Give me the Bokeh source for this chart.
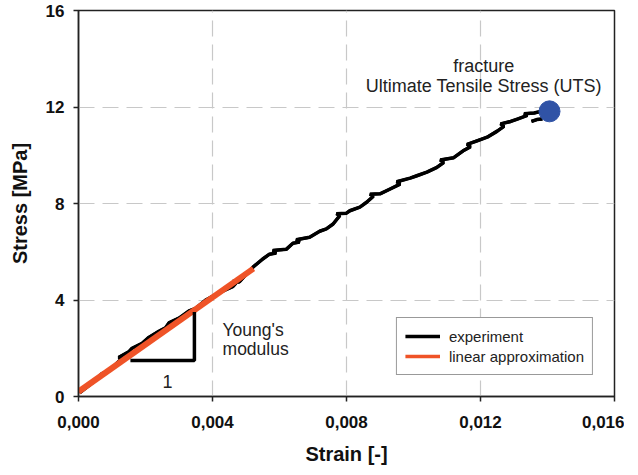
from bokeh.plotting import figure
from bokeh.models import Range1d, FixedTicker, CustomJSTickFormatter, Legend, LegendItem
from bokeh.core.properties import value
from bokeh.embed import file_html
from bokeh.resources import INLINE

nan = float("nan")

# experimental stress-strain curve (strain [-], stress [MPa]); NaN separates the post-fracture fragment
exp_strain = [0.00003, 0.0004, 0.0006, 0.0007, 0.0009, 0.0012, 0.0013, 0.0012, 0.0015, 0.0016,
              0.0019, 0.0021, 0.0024, 0.0026, 0.0027, 0.0030, 0.0033, 0.0035, 0.0038, 0.0042,
              0.0046, 0.0047, 0.0046, 0.0048, 0.0052, 0.0055, 0.0057, 0.0059, 0.0058, 0.0062,
              0.0064, 0.0066, 0.0065, 0.0069, 0.0072, 0.0074, 0.0076, 0.0078, 0.0077, 0.0080,
              0.0081, 0.0084, 0.0086, 0.0088, 0.0087, 0.0090, 0.0093, 0.0096, 0.0095, 0.0099,
              0.0101, 0.0104, 0.0107, 0.0109, 0.0108, 0.0112, 0.0115, 0.0117, 0.0116, 0.0119,
              0.0122, 0.0125, 0.0127, 0.0126, 0.0129, 0.0131, 0.0134, 0.0133, 0.0136, 0.0139,
              nan, 0.01352, 0.01368, 0.01385]
exp_stress = [0.15, 0.55, 0.80, 0.95, 1.05, 1.45, 1.55, 1.62, 1.85, 2.00,
              2.20, 2.45, 2.70, 2.85, 3.05, 3.25, 3.55, 3.65, 4.00, 4.30,
              4.55, 4.70, 4.78, 4.75, 5.35, 5.70, 5.90, 5.95, 6.05, 6.10,
              6.35, 6.40, 6.50, 6.60, 6.85, 6.95, 7.15, 7.50, 7.58, 7.60,
              7.70, 7.85, 8.05, 8.30, 8.38, 8.40, 8.60, 8.80, 8.90, 9.05,
              9.15, 9.30, 9.50, 9.70, 9.80, 9.90, 10.20, 10.35, 10.45, 10.60,
              10.75, 11.00, 11.20, 11.30, 11.40, 11.50, 11.65, 11.72, 11.75, 11.85,
              nan, 11.40, 11.48, 11.50]

# linear approximation (Young's modulus)
lin_strain = [0.0, 0.00522]
lin_stress = [0.2, 5.30]

# slope triangle
tri_strain = [0.00155, 0.00346, 0.00346]
tri_stress = [1.49, 1.49, 3.50]

# fracture point (UTS)
uts_strain = [0.01406]
uts_stress = [11.82]

x_ticks = [0.0, 0.004, 0.008, 0.012, 0.016]
y_ticks = [0, 4, 8, 12, 16]

FONT = "Liberation Sans"
ORANGE = "#ef5327"

p = figure(frame_width=536, frame_height=386, output_backend="svg", toolbar_location=None,
           x_range=Range1d(0, 0.016), y_range=Range1d(0, 16),
           min_border_left=78, min_border_top=10, min_border_right=10, min_border_bottom=60)
p.background_fill_color = "white"
p.border_fill_color = "white"
p.outline_line_color = "#222222"
p.outline_line_width = 1.5

# grid
for g in (p.xgrid, p.ygrid):
    g.grid_line_color = "#c8c8c8"
    g.grid_line_dash = "16 8"
    g.grid_line_width = 1.2
p.xgrid.ticker = FixedTicker(ticks=x_ticks)
p.ygrid.ticker = FixedTicker(ticks=y_ticks)

# axes
p.xaxis.ticker = FixedTicker(ticks=x_ticks)
p.yaxis.ticker = FixedTicker(ticks=y_ticks)
p.xaxis.formatter = CustomJSTickFormatter(code="return tick.toFixed(3).replace('.', ',');")
for ax in (p.xaxis[0], p.yaxis[0]):
    ax.axis_line_color = "#222222"
    ax.axis_line_width = 1.5
    ax.major_tick_line_color = "#222222"
    ax.major_tick_line_width = 1.5
    ax.major_tick_out = 5
    ax.major_tick_in = 0
    ax.minor_tick_line_color = None
    ax.major_label_text_font = FONT
    ax.major_label_text_font_style = "bold"
    ax.major_label_text_font_size = "17px"
    ax.major_label_text_color = "#111111"
    ax.axis_label_text_font = FONT
    ax.axis_label_text_font_style = "bold"
    ax.axis_label_text_font_size = "20px"
    ax.axis_label_text_color = "#111111"
p.xaxis.axis_label = "Strain [-]"
p.yaxis.axis_label = "Stress [MPa]"
p.xaxis.major_label_standoff = 14
p.yaxis.major_label_standoff = 9
p.xaxis.axis_label_standoff = 12
p.yaxis.axis_label_standoff = 12

# thin copies used as legend swatches (hidden beneath the visible lines)
leg_exp = p.line(exp_strain, exp_stress, line_color="black", line_width=3.5)
leg_lin = p.line(lin_strain, lin_stress, line_color=ORANGE, line_width=3.5)

# data
p.line(exp_strain, exp_stress, line_color="black", line_width=3)
p.line(lin_strain, lin_stress, line_color=ORANGE, line_width=6)
p.line(tri_strain, tri_stress, line_color="black", line_width=3.5)
p.scatter(uts_strain, uts_stress, size=21, fill_color="#3053a6", line_color="#3053a6")

# annotations
p.text(x=[0.01210, 0.01210], y=[13.68, 12.85], text=["fracture", "Ultimate Tensile Stress (UTS)"],
       text_align="center", text_baseline="middle", text_font=value(FONT),
       text_font_size="18px", text_color="#222222")
p.text(x=[0.0043, 0.0043], y=[2.74, 1.95], text=["Young's", "modulus"],
       text_align="left", text_baseline="middle", text_font=value(FONT),
       text_font_size="17.5px", text_color="#222222")
p.text(x=[0.00266], y=[0.62], text=["1"], text_align="center", text_baseline="middle",
       text_font=value(FONT), text_font_size="18px", text_color="#222222")

legend = Legend(items=[LegendItem(label="experiment", renderers=[leg_exp]),
                       LegendItem(label="linear approximation", renderers=[leg_lin])],
                location="bottom_right", orientation="vertical")
legend.label_text_font = FONT
legend.label_text_font_size = "15px"
legend.label_text_color = "#222222"
legend.glyph_width = 35
legend.glyph_height = 20
legend.label_height = 20
legend.label_width = 0
legend.label_standoff = 9
legend.padding = 8
legend.spacing = 0
legend.margin = 21
legend.border_line_color = "#333333"
legend.border_line_width = 1.2
legend.background_fill_alpha = 1.0
p.add_layout(legend)

open("out.html", "w").write(file_html(p, INLINE))
